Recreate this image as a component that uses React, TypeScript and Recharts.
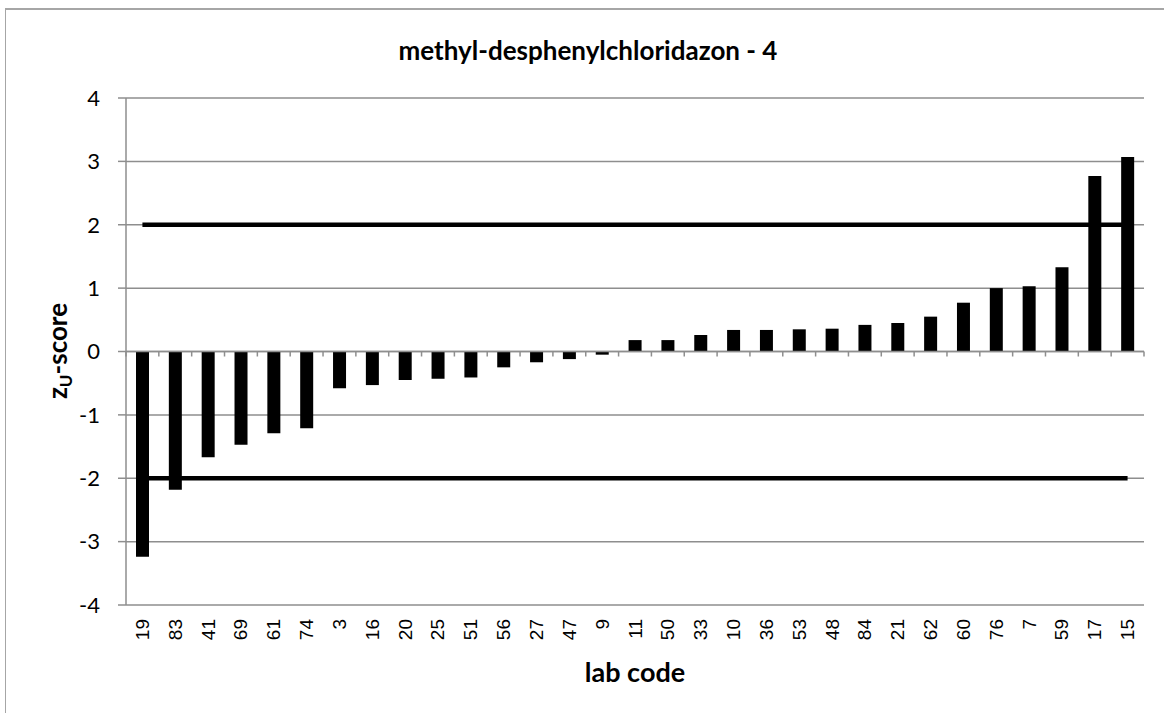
import React from 'react';
import { ComposedChart, Bar, Line, XAxis, YAxis, CartesianGrid, ReferenceLine } from 'recharts';

const labCodes = ['19','83','41','69','61','74','3','16','20','25','51','56','27','47','9','11','50','33','10','36','53','48','84','21','62','60','76','7','59','17','15'];
const zScores = [-3.24,-2.18,-1.67,-1.47,-1.29,-1.21,-0.58,-0.53,-0.45,-0.43,-0.41,-0.25,-0.17,-0.12,-0.05,0.18,0.18,0.26,0.34,0.34,0.35,0.36,0.42,0.45,0.55,0.77,1.0,1.03,1.33,2.77,3.07];
const upperLimit = 2;
const lowerLimit = -2;
const yTicks = [-4, -3, -2, -1, 0, 1, 2, 3, 4];

const data = labCodes.map((lab, i) => ({ lab, z: zScores[i], upper: upperLimit, lower: lowerLimit }));

const GRID = '#8e8e8e';

const XTick = (props: any) => {
  const { x, y, payload } = props;
  return (
    <text x={x} y={y} transform={`rotate(-90, ${x}, ${y})`} textAnchor="end" dominantBaseline="central"
      fontFamily="'Liberation Sans', Arial, sans-serif" fontSize={19} fill="#000">
      {payload.value}
    </text>
  );
};

const ZeroAxis = (props: any) => {
  const { x1, x2, y1 } = props;
  const n = labCodes.length;
  const step = (x2 - x1) / n;
  const marks = [];
  for (let i = 0; i <= n; i++) {
    const x = x1 + step * i;
    marks.push(<line key={i} x1={x} x2={x} y1={y1} y2={y1 + 5} stroke={GRID} strokeWidth={1.5} />);
  }
  return (
    <g>
      <line x1={x1} x2={x2} y1={y1} y2={y1} stroke={GRID} strokeWidth={1.5} />
      {marks}
    </g>
  );
};

export default function App() {
  return (
    <div style={{ position: 'absolute', left: 0, top: 0, width: 1164, height: 713, background: '#fff', overflow: 'hidden' }}>
      <div style={{ position: 'absolute', left: 5, top: 8, width: 1170, height: 720, borderTop: '2px solid #a6a6a6', borderLeft: '1.5px solid #a6a6a6' }} />
      <div style={{ position: 'absolute', left: 0, top: 0 }}>
        <ComposedChart width={1164} height={713} data={data} margin={{ top: 98, right: 20, bottom: 58, left: 66 }}>
          <CartesianGrid vertical={false} stroke={GRID} strokeWidth={1.5} />
          <XAxis dataKey="lab" interval={0} axisLine={false} tickLine={false} tickSize={0} tickMargin={14} height={50} tick={<XTick />} />
          <YAxis domain={[-4, 4]} ticks={yTicks} interval={0} width={60} allowDataOverflow
            axisLine={{ stroke: GRID, strokeWidth: 1.5 }} tickLine={{ stroke: GRID, strokeWidth: 1.5 }} tickSize={8} tickMargin={18}
            tick={{ fontFamily: 'Lato, sans-serif', fontSize: 22, fill: '#000' }} />
          <ReferenceLine y={0} shape={<ZeroAxis />} />
          <Bar dataKey="z" fill="#000" barSize={13} isAnimationActive={false} />
          <Line dataKey="upper" stroke="#000" strokeWidth={4.5} dot={false} activeDot={false} isAnimationActive={false} />
          <Line dataKey="lower" stroke="#000" strokeWidth={4.5} dot={false} activeDot={false} isAnimationActive={false} />
        </ComposedChart>
      </div>
      <div style={{ position: 'absolute', left: 0, width: 1176, top: 33, textAlign: 'center', fontFamily: 'Lato, sans-serif', fontWeight: 700, fontSize: 26, lineHeight: '34px', color: '#000' }}>
        methyl-desphenylchloridazon - 4
      </div>
      <div style={{ position: 'absolute', left: 435, width: 400, top: 655, textAlign: 'center', fontFamily: 'Lato, sans-serif', fontWeight: 700, fontSize: 27, lineHeight: '34px', color: '#000' }}>
        lab code
      </div>
      <div style={{ position: 'absolute', left: 57, top: 351, width: 0, height: 0 }}>
        <div style={{ position: 'absolute', left: -120, top: -17, width: 240, textAlign: 'center', transform: 'rotate(-90deg)', fontFamily: 'Lato, sans-serif', fontWeight: 700, fontSize: 26, color: '#000', lineHeight: '34px', whiteSpace: 'nowrap' }}>
          z<sub style={{ fontSize: 17, verticalAlign: '-5px', lineHeight: 0 }}>U</sub>-score
        </div>
      </div>
    </div>
  );
}
